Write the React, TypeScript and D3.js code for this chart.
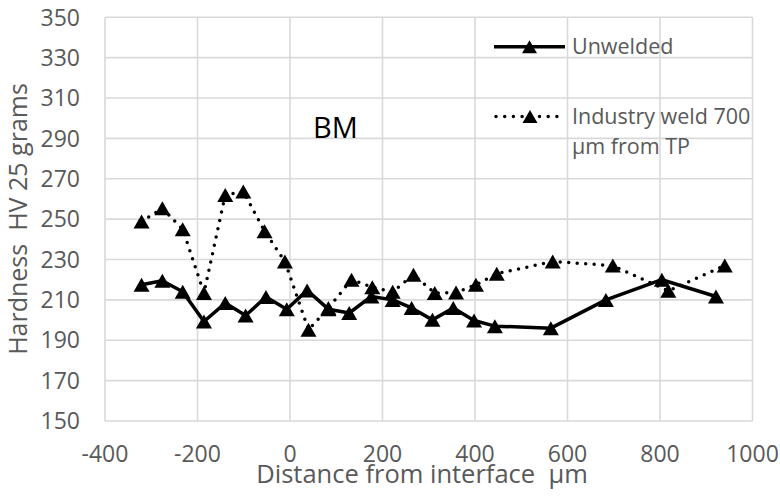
import React from "react";
import * as d3 from "d3";

const unweldedX = [-321, -276, -232, -186, -140, -96, -52, -7, 37, 83, 128, 176, 222, 263, 308, 353, 398, 443, 564, 683, 804, 921];
const unweldedY = [217.5, 219.5, 214, 199.3, 208.4, 202.3, 211.4, 205.4, 214.7, 205.4, 203.5, 211.7, 210, 206, 200.1, 206, 199.8, 197, 196, 210, 220, 211.7];

const weldX = [-321, -276, -232, -186, -140, -101, -55, -11, 40, 83, 133, 178, 222, 267, 313, 359, 402, 447, 568, 698, 818, 940];
const weldY = [248.8, 255.4, 245, 213.4, 262, 263.7, 244, 229, 195.2, 206, 220, 216.3, 214, 222.4, 213.4, 213.7, 217.5, 223, 229, 227, 214.5, 227];

const xTicks = [-400, -200, 0, 200, 400, 600, 800, 1000];
const yTicks = [150, 170, 190, 210, 230, 250, 270, 290, 310, 330, 350];

const seriesNames = ["Unwelded", "Industry weld 700", "µm from TP"];
const xTitle = "Distance from interface  µm";
const yTitle = "Hardness  HV 25 grams";
const annotation = "BM";

const W = 780;
const H = 498;
const FONT = "'Open Sans', sans-serif";
const GRAY = "#595959";
const GRID = "#d9d9d9";

const tri = (cx: number, cy: number, w = 16, h = 14) => {
  const p = d3.path();
  p.moveTo(cx, cy - h / 2);
  p.lineTo(cx + w / 2, cy + h / 2);
  p.lineTo(cx - w / 2, cy + h / 2);
  p.closePath();
  return p.toString();
};

export default function App() {
  const x = d3.scaleLinear().domain([-400, 1000]).range([105, 752.5]);
  const y = d3.scaleLinear().domain([150, 350]).range([421, 17.3]);

  const line = d3
    .line<[number, number]>()
    .x((d) => x(d[0]))
    .y((d) => y(d[1]));

  const unw: [number, number][] = unweldedX.map((v, i) => [v, unweldedY[i]]);
  const wld: [number, number][] = weldX.map((v, i) => [v, weldY[i]]);

  return (
    <svg
      width={W}
      height={H}
      style={{ position: "absolute", left: 0, top: 0, background: "#fff" }}
      fontFamily={FONT}
    >
      <rect x={0} y={0} width={W} height={H} fill="#fff" />
      {/* grid */}
      {yTicks.map((t) => (
        <line key={"gy" + t} x1={x(-400)} x2={x(1000)} y1={y(t)} y2={y(t)} stroke={GRID} strokeWidth={1.6} />
      ))}
      {xTicks.map((t) => (
        <line key={"gx" + t} x1={x(t)} x2={x(t)} y1={y(150)} y2={y(350)} stroke={GRID} strokeWidth={1.6} />
      ))}
      {/* tick labels */}
      {yTicks.map((t) => (
        <text key={"ty" + t} x={80} y={y(t) + 8.2} textAnchor="end" fontSize={23} fill={GRAY}>
          {t}
        </text>
      ))}
      {xTicks.map((t) => (
        <text key={"tx" + t} x={x(t)} y={462} textAnchor="middle" fontSize={23} fill={GRAY}>
          {t}
        </text>
      ))}
      {/* axis titles */}
      <text x={422} y={483} textAnchor="middle" fontSize={25.5} fill={GRAY} style={{ whiteSpace: "pre" }}>
        {xTitle}
      </text>
      <text
        transform="translate(27,219) rotate(-90)"
        textAnchor="middle"
        fontSize={25}
        fill={GRAY}
        style={{ whiteSpace: "pre" }}
      >
        {yTitle}
      </text>
      {/* annotation */}
      <text x={313} y={138} fontSize={29} fill="#000">
        {annotation}
      </text>
      {/* series */}
      <path d={line(wld) || ""} fill="none" stroke="#000" strokeWidth={3.5} strokeLinecap="round" strokeDasharray="0 8.5" />
      <path d={line(unw) || ""} fill="none" stroke="#000" strokeWidth={3.5} strokeLinejoin="round" />
      {wld.map((d, i) => (
        <path key={"mw" + i} d={tri(x(d[0]), y(d[1]))} fill="#000" />
      ))}
      {unw.map((d, i) => (
        <path key={"mu" + i} d={tri(x(d[0]), y(d[1]))} fill="#000" />
      ))}
      {/* legend */}
      <line x1={494} x2={565} y1={46.7} y2={46.7} stroke="#000" strokeWidth={3.5} />
      <path d={tri(529.5, 46.7, 15, 13)} fill="#000" />
      <text x={572} y={54} fontSize={21.5} fill={GRAY}>
        {seriesNames[0]}
      </text>
      <line x1={496} x2={565} y1={116.5} y2={116.5} stroke="#000" strokeWidth={3.5} strokeLinecap="round" strokeDasharray="0 8.7" />
      <path d={tri(530, 116.5, 15, 13)} fill="#000" />
      <text x={572} y={123.5} fontSize={21.5} fill={GRAY}>
        {seriesNames[1]}
      </text>
      <text x={572} y={153.5} fontSize={21.5} fill={GRAY}>
        {seriesNames[2]}
      </text>
    </svg>
  );
}
